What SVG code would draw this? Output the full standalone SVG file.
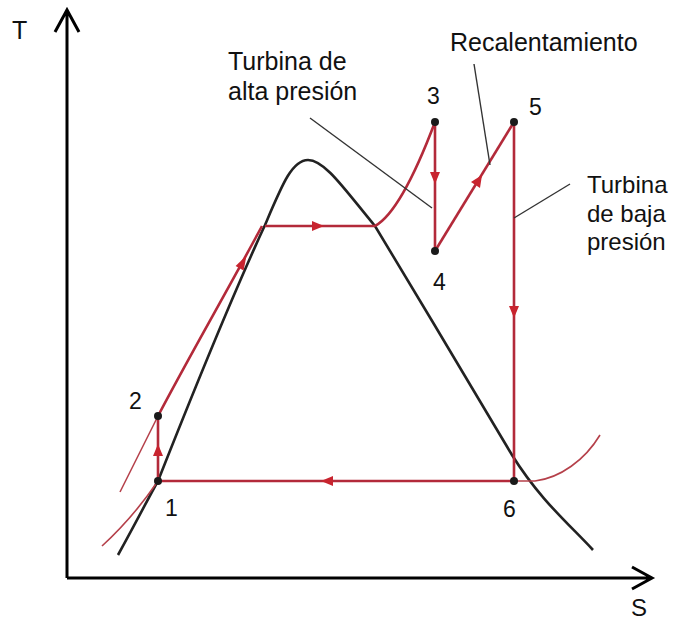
<svg xmlns="http://www.w3.org/2000/svg" width="675" height="623" viewBox="0 0 675 623">
<style>
text{font-family:"Liberation Sans",Arial,sans-serif;font-size:25px;fill:#111}
.num{font-size:23px}
.ax{stroke:#000;stroke-width:3;fill:none}
.dome{stroke:#222;stroke-width:2.6;fill:none}
.red{stroke:#b32a3a;stroke-width:2.6;fill:none}
.thin{stroke:#b5404a;stroke-width:1.6;fill:none}
.lead{stroke:#333;stroke-width:1.4;fill:none}
.pt{fill:#1a1a1a}
.arr{fill:#c8242f}
</style>
<rect width="675" height="623" fill="#fff"/>
<g id="axes">
<path class="ax" d="M67,578 V10 M55,32 L67,10 L79,32"/>
<path class="ax" d="M67,578 H652 M632,567 L652,578 L632,589"/>
<text x="12" y="39" style="font-size:25px">T</text>
<text x="631" y="616" style="font-size:24px">S</text>
</g>
<g id="dome">
<path class="dome" d="M118,555 C140,515 150,495 158,481 C190,400 235,290 265,225 C282,185 292,160 308,160 C325,160 345,190 375,226 C420,300 470,385 512,455 C540,500 570,525 593,550"/>
</g>
<g id="connectors">
<path class="thin" d="M102,546 C125,525 145,500 158,481"/>
<path class="thin" d="M120,492 L158,416"/>
<path class="red" d="M158,416 C190,355 225,295 262,226"/>
<path class="red" d="M265,226 H375"/>
<path class="red" d="M375,226 C395,215 415,175 435,122"/>
<path class="red" d="M435,122 V251"/>
<path class="red" d="M435,251 L514,122"/>
<path class="red" d="M514,122 V481"/>
<path class="red" d="M514,481 H158"/>
<path class="red" d="M158,481 V416"/>
<path class="thin" d="M514,481 H535 C560,478 585,460 600,435"/>
<path class="arr" d="M312,221 L324,226 L312,231 Z"/>
<path class="arr" d="M430,172 L435,184 L440,172 Z"/>
<path class="arr" d="M482,175 L480,188 L471,182 Z"/>
<path class="arr" d="M509,306 L514,318 L519,306 Z"/>
<path class="arr" d="M333,476 L321,481 L333,486 Z"/>
<path class="arr" d="M153,456 L158,444 L163,456 Z"/>
<path class="arr" d="M246.5,255.5 L243.6,270.4 L235.6,266 Z"/>
<path class="lead" d="M310,118 L432,208"/>
<path class="lead" d="M474,64 L490,165"/>
<path class="lead" d="M514,218 L570,184"/>
</g>
<g id="p1"><circle class="pt" cx="158" cy="481" r="4"/><text class="num" x="165" y="516">1</text></g>
<g id="p2"><circle class="pt" cx="158" cy="416" r="4"/><text class="num" x="129" y="409">2</text></g>
<g id="p3"><circle class="pt" cx="435" cy="122" r="4"/><text class="num" x="427" y="104">3</text></g>
<g id="p4"><circle class="pt" cx="435" cy="251" r="4"/><text class="num" x="433" y="290">4</text></g>
<g id="p5"><circle class="pt" cx="514" cy="122" r="4"/><text class="num" x="529" y="115">5</text></g>
<g id="p6"><circle class="pt" cx="514" cy="481" r="4"/><text class="num" x="503" y="517">6</text></g>
<g id="label-alta"><text x="228" y="70">Turbina de</text><text x="228" y="100">alta presión</text></g>
<g id="label-recal"><text x="450" y="51">Recalentamiento</text></g>
<g id="label-baja"><text x="587" y="193" style="font-size:24px">Turbina</text><text x="587" y="222" style="font-size:24px">de baja</text><text x="587" y="250" style="font-size:24px">presión</text></g>
</svg>
